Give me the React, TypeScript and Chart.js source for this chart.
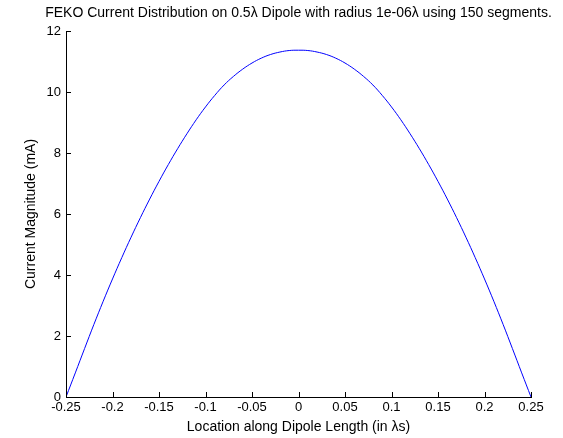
import React, { useEffect, useRef } from "react";
import { Chart, registerables } from "chart.js";

Chart.register(...registerables);

const titleText = "FEKO Current Distribution on 0.5\u03bb Dipole with radius 1e-06\u03bb using 150 segments.";
const xAxisTitle = "Location along Dipole Length (in \u03bbs)";
const yAxisTitle = "Current Magnitude (mA)";

const positions = [
  -0.25, -0.24, -0.23, -0.22, -0.21, -0.2, -0.19, -0.18, -0.17, -0.16, -0.15,
  -0.14, -0.13, -0.12, -0.11, -0.1, -0.09, -0.08, -0.07, -0.06, -0.05, -0.04,
  -0.03, -0.02, -0.01, 0, 0.01, 0.02, 0.03, 0.04, 0.05, 0.06, 0.07, 0.08, 0.09,
  0.1, 0.11, 0.12, 0.13, 0.14, 0.15, 0.16, 0.17, 0.18, 0.19, 0.2, 0.21, 0.22,
  0.23, 0.24, 0.25,
];

const currents = [
  0, 0.79, 1.59, 2.38, 3.14, 3.87, 4.57, 5.24, 5.88, 6.49, 7.07,
  7.62, 8.14, 8.63, 9.09, 9.51, 9.89, 10.23, 10.51, 10.75, 10.95, 11.11,
  11.23, 11.31, 11.36, 11.37, 11.36, 11.31, 11.23, 11.11, 10.95, 10.75, 10.51, 10.23, 9.89,
  9.51, 9.09, 8.63, 8.14, 7.62, 7.07, 6.49, 5.88, 5.24, 4.57, 3.87, 3.14, 2.38,
  1.59, 0.79, 0,
];

const xTicks = [-0.25, -0.2, -0.15, -0.1, -0.05, 0, 0.05, 0.1, 0.15, 0.2, 0.25];
const yTicks = [0, 2, 4, 6, 8, 10, 12];

const FONT = "'Liberation Sans', Arial, sans-serif";

const inwardTicks = {
  id: "inwardTicks",
  afterDraw(chart: any) {
    const ctx = chart.ctx;
    const xs = chart.scales.x;
    const ys = chart.scales.y;
    const area = chart.chartArea;
    ctx.save();
    ctx.strokeStyle = "#000";
    ctx.lineWidth = 1;
    ctx.beginPath();
    xTicks.forEach((v) => {
      const px = Math.round(xs.getPixelForValue(v)) + 0.5;
      ctx.moveTo(px, area.bottom);
      ctx.lineTo(px, area.bottom - 5);
    });
    yTicks.forEach((v) => {
      const py = Math.round(ys.getPixelForValue(v)) + 0.5;
      ctx.moveTo(area.left, py);
      ctx.lineTo(area.left + 5, py);
    });
    ctx.stroke();
    ctx.fillStyle = "#000";
    ctx.font = "14px " + FONT;
    ctx.textAlign = "center";
    ctx.textBaseline = "middle";
    ctx.fillText(titleText, (area.left + area.right) / 2, 13);
    ctx.restore();
  },
};

export default function App() {
  const ref = useRef<HTMLCanvasElement | null>(null);
  useEffect(() => {
    document.body.style.margin = "0";
    const canvas = ref.current;
    if (!canvas) return;
    const chart = new Chart(canvas, {
      type: "line",
      data: {
        datasets: [
          {
            data: positions.map((x, i) => ({ x, y: currents[i] })),
            borderColor: "#0000ff",
            borderWidth: 1,
            pointRadius: 0,
            tension: 0.4,
            fill: false,
          },
        ],
      },
      options: {
        responsive: false,
        animation: false,
        layout: { padding: { left: 0, right: 32, top: 31, bottom: 0 } },
        plugins: {
          legend: { display: false },
          tooltip: { enabled: false },
          title: { display: false },
        },
        scales: {
          x: {
            type: "linear",
            min: -0.25,
            max: 0.25,
            afterBuildTicks: (s: any) => {
              s.ticks = xTicks.map((v) => ({ value: v }));
            },
            afterFit: (s: any) => {
              s.height = 41;
            },
            grid: { display: false, drawTicks: false },
            border: { display: true, color: "#000", width: 1 },
            ticks: {
              color: "#000",
              padding: 3,
              maxRotation: 0,
              autoSkip: false,
              font: { family: FONT, size: 13 },
              callback: (v: any) => String(Number(Number(v).toFixed(2))),
            },
            title: {
              display: true,
              text: xAxisTitle,
              color: "#000",
              font: { family: FONT, size: 14 },
              padding: { top: 0, bottom: 2 },
            },
          },
          y: {
            type: "linear",
            min: 0,
            max: 12,
            afterBuildTicks: (s: any) => {
              s.ticks = yTicks.map((v) => ({ value: v }));
            },
            afterFit: (s: any) => {
              s.width = 66;
            },
            grid: { display: false, drawTicks: false },
            border: { display: true, color: "#000", width: 1 },
            ticks: {
              color: "#000",
              padding: 5,
              autoSkip: false,
              font: { family: FONT, size: 13 },
            },
            title: {
              display: true,
              text: yAxisTitle,
              color: "#000",
              font: { family: FONT, size: 14 },
              padding: { top: 23, bottom: 0 },
            },
          },
        },
      },
      plugins: [inwardTicks],
    } as any);
    return () => chart.destroy();
  }, []);
  return (
    <div style={{ width: 563, height: 438, background: "#fff" }}>
      <canvas ref={ref} width={563} height={438} style={{ display: "block" }} />
    </div>
  );
}
